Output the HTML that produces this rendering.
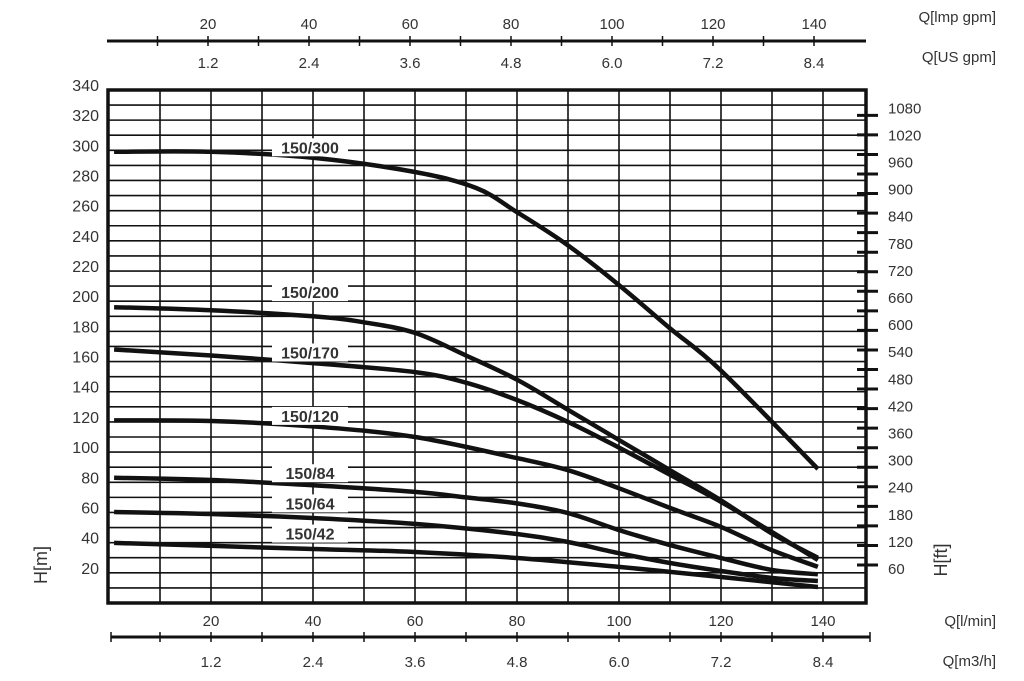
<!DOCTYPE html>
<html><head><meta charset="utf-8"><style>
body{margin:0;background:#fff;width:1024px;height:676px;overflow:hidden}
svg text{font-family:"Liberation Sans",sans-serif;fill:#333}
</style></head><body>
<svg id="chart" width="1024" height="676" viewBox="0 0 1024 676" xmlns="http://www.w3.org/2000/svg"></svg>
<script>
const curveNames=["150/300","150/200","150/170","150/120","150/84","150/64","150/42"];
const curveQ=[
[1,20,40,60,72,80,90,100,110,120,139],
[1,20,40,50,60,70,80,90,100,110,120,130,139],
[1,20,40,60,70,80,90,100,110,120,130,139],
[1,20,40,60,80,90,100,110,120,130,139],
[1,20,40,60,70,80,90,100,110,120,130,139],
[1,20,40,60,80,90,100,110,120,130,139],
[1,40,60,80,100,120,139]];
const curveH=[
[299,299,295,285.6,275,259,237,210.7,182,154,88.8],
[196,194,190,186,179,164,148,128,108,88,68,46,30],
[168,164,159,153,146,134.5,120,103,85,67,47,28.5],
[121,120.6,117,110,96,88,76,63,50.4,35,24],
[83,81.5,78,73.6,70,66,59.6,48.3,38.4,29.8,21.9,19],
[60.3,59,56.3,52.4,45.7,40.4,33,26.5,21.2,16.6,14.6],
[39.8,35.8,33.8,29.8,23.9,17.2,10.6]];
const labelH=[302,206,166,124,86,66,46];
const hTicks=[20,40,60,80,100,120,140,160,180,200,220,240,260,280,300,320,340];
const ftTicks=[60,120,180,240,300,360,420,480,540,600,660,720,780,840,900,960,1020,1080];
const lminTicks=[20,40,60,80,100,120,140];
const m3hTicks=["1.2","2.4","3.6","4.8","6.0","7.2","8.4"];
const impTicks=[20,40,60,80,100,120,140];
const usTicks=["1.2","2.4","3.6","4.8","6.0","7.2","8.4"];

const svg=document.getElementById('chart');
const NS="http://www.w3.org/2000/svg";
const L=108,R=866,T=90,B=603;
const xS=q=>109+q*5.1;
const yS=h=>B-h*1.509;
function mk(tag,attrs){const e=document.createElementNS(NS,tag);for(const k in attrs)e.setAttribute(k,attrs[k]);svg.appendChild(e);return e;}
function txt(x,y,s,anchor,size,extra){const t=mk('text',Object.assign({x:x,y:y,'text-anchor':anchor||'middle','font-size':size||15},extra||{}));t.textContent=s;return t;}
function smooth(p){let d='M'+p[0][0].toFixed(1)+','+p[0][1].toFixed(1);
 for(let i=0;i<p.length-1;i++){const p0=p[i-1]||p[i],p1=p[i],p2=p[i+1],p3=p[i+2]||p2;
  const c1x=p1[0]+(p2[0]-p0[0])/6,c1y=p1[1]+(p2[1]-p0[1])/6,c2x=p2[0]-(p3[0]-p1[0])/6,c2y=p2[1]-(p3[1]-p1[1])/6;
  d+=' C'+c1x.toFixed(1)+','+c1y.toFixed(1)+' '+c2x.toFixed(1)+','+c2y.toFixed(1)+' '+p2[0].toFixed(1)+','+p2[1].toFixed(1);}
 return d;}

for(let h=10;h<340;h+=10){const l=mk('line',{x1:L,x2:R,y1:yS(h),y2:yS(h),stroke:'#111','stroke-width':1.6});

}
for(let q=10;q<=140;q+=10){const l=mk('line',{x1:xS(q),x2:xS(q),y1:T,y2:B,stroke:'#111','stroke-width':1.6});

}
const border=mk('rect',{x:L,y:T,width:R-L,height:B-T,fill:'none',stroke:'#111','stroke-width':3.5});



hTicks.forEach(h=>{const t=txt(99,yS(h)+1,String(h),'end',16);

});
const hm=txt(0,0,'H[m]','middle',18,{transform:'translate(47,565) rotate(-90)'});



for(let k=0;k<=23;k++){const y=565-19.55*k;const l=mk('line',{x1:857,x2:878,y1:y,y2:y,stroke:'#111','stroke-width':3});

}
ftTicks.forEach(f=>{const t=txt(888,568-(f/60-1)*27.1+6,String(f),'start',15);

});
const hf=txt(0,0,'H[ft]','middle',18,{transform:'translate(947,560) rotate(-90)'});



lminTicks.forEach(q=>{const t=txt(xS(q),626,String(q),'middle',15);

});
const bl=mk('line',{x1:111,x2:870,y1:637,y2:637,stroke:'#111','stroke-width':3});


for(let q=0;q<=150;q+=10){const x=q===150?870:xS(q)+(q===0?2:0);const l=mk('line',{x1:x,x2:x,y1:632,y2:642,stroke:'#111','stroke-width':1.5});

}
m3hTicks.forEach((s,i)=>{const t=txt(xS(lminTicks[i]),667,s,'middle',15);

});
const t1=txt(996,626,'Q[l/min]','end',15);
const t2=txt(996,666,'Q[m3/h]','end',15);

const tx=q=>107+q*5.05;
impTicks.forEach(q=>{const t=txt(tx(q),29,String(q),'middle',15);

});
const tl=mk('line',{x1:107,x2:866,y1:41,y2:41,stroke:'#111','stroke-width':3});


for(let q=10;q<=140;q+=10){const l=mk('line',{x1:tx(q),x2:tx(q),y1:36,y2:46,stroke:'#111','stroke-width':1.5});

}
usTicks.forEach((s,i)=>{const t=txt(tx(impTicks[i]),68,s,'middle',15);

});
const t3=txt(996,22,'Q[lmp gpm]','end',15);
const t4=txt(996,62,'Q[US gpm]','end',15);

curveNames.forEach((n,i)=>{
 const pts=curveQ[i].map((q,j)=>[xS(q),yS(curveH[i][j])]);
 const p=mk('path',{d:smooth(pts),fill:'none',stroke:'#111','stroke-width':4.5,'stroke-linejoin':'round','stroke-linecap':'butt'});
 
 
 const y=yS(labelH[i]);
 const bg=mk('rect',{x:272,y:y-9,width:76,height:18,fill:'#fff'});
 
 
 const t=txt(310,y+6,n,'middle',16,{'font-weight':'bold'});
 
 
});
</script>
</body></html>
